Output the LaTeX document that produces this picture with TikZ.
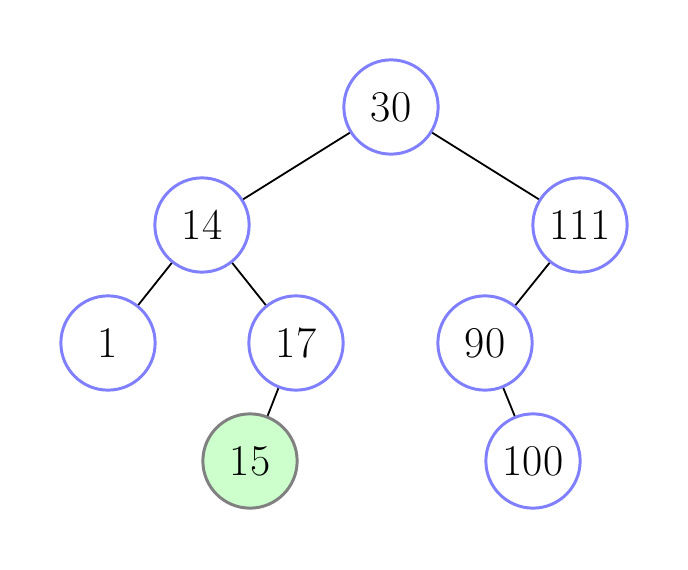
\documentclass[tikz,border=0pt]{standalone}
\begin{document}
\begin{tikzpicture}[x=0.471pt,y=-0.471pt,
  treenode/.style={circle,draw=blue!50,line width=1.4pt,minimum size=44.4pt,inner sep=0pt,font=\fontsize{20.7}{25}\selectfont},
  newnode/.style={treenode,draw=gray,fill=green!20},
  edge/.style={line width=0.85pt}]
\useasboundingbox (0,0) rectangle (688,570);
\node[treenode] (n30) at (391,107) {30};
\node[treenode] (n14) at (202,225) {14};
\node[treenode] (n111) at (580,225) {111};
\node[treenode] (n1) at (108,343) {1};
\node[treenode] (n17) at (296,343) {17};
\node[treenode] (n90) at (485,343) {90};
\node[newnode] (n15) at (250,461) {15};
\node[treenode] (n100) at (533,461) {100};
\draw[edge] (n30) -- (n14);
\draw[edge] (n30) -- (n111);
\draw[edge] (n14) -- (n1);
\draw[edge] (n14) -- (n17);
\draw[edge] (n17) -- (n15);
\draw[edge] (n111) -- (n90);
\draw[edge] (n90) -- (n100);
\end{tikzpicture}
\end{document}
